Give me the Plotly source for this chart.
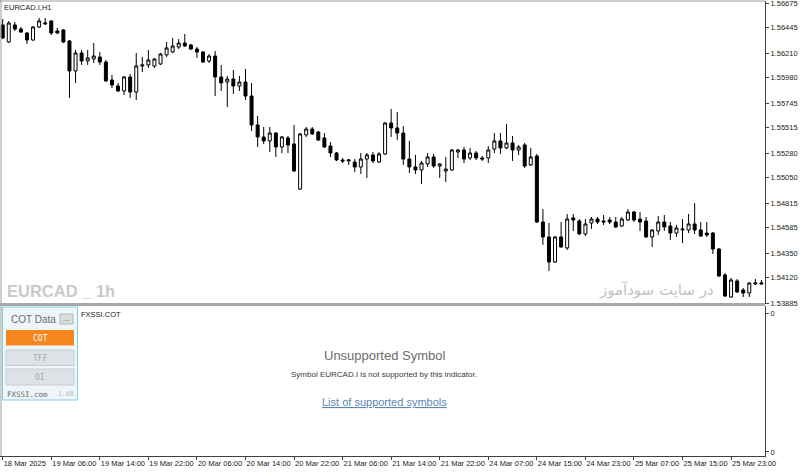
import plotly.graph_objects as go

# ---------------- data (EURCAD.I, H1) ----------------
opens = [1.56471,1.56312,1.56471,1.56433,1.56396,1.56331,1.56452,1.56480,1.56508,1.56415,
         1.56424,1.56322,1.56043,1.56210,1.56136,1.56154,1.56173,1.56126,1.55959,1.55903,
         1.55857,1.55987,1.55847,1.56089,1.56099,1.56089,1.56108,1.56192,1.56219,1.56266,
         1.56303,1.56285,1.56247,1.56219,1.56136,1.56182,1.55987,1.55940,1.55968,1.55903,
         1.55940,1.55810,1.55541,1.55429,1.55392,1.55466,1.55336,1.55420,1.55364,1.54945,
         1.55448,1.55503,1.55475,1.55420,1.55345,1.55280,1.55215,1.55206,1.55196,1.55150,
         1.55224,1.55262,1.55196,1.55271,1.55559,1.55513,1.55466,1.55224,1.55150,1.55122,
         1.55178,1.55243,1.55159,1.55113,1.55122,1.55289,1.55308,1.55234,1.55280,1.55234,
         1.55234,1.55317,1.55392,1.55327,1.55373,1.55308,1.55355,1.55169,1.55252,1.54638,
         1.54499,1.54266,1.54499,1.54397,1.54676,1.54648,1.54527,1.54629,1.54666,1.54648,
         1.54657,1.54638,1.54601,1.54657,1.54731,1.54666,1.54648,1.54499,1.54555,1.54638,
         1.54601,1.54536,1.54564,1.54564,1.54620,1.54564,1.54536,1.54536,1.54387,1.54146,
         1.53941,1.54090,1.54006,1.53978,1.54062,1.54062]
highs = [1.56526,1.56508,1.56498,1.56452,1.56405,1.56461,1.56536,1.56536,1.56517,1.56443,
         1.56433,1.56331,1.56238,1.56238,1.56238,1.56303,1.56219,1.56145,1.56006,1.55931,
         1.55996,1.56015,1.56210,1.56173,1.56238,1.56164,1.56210,1.56312,1.56350,1.56340,
         1.56387,1.56294,1.56266,1.56229,1.56201,1.56229,1.56099,1.55996,1.56052,1.55996,
         1.56061,1.55931,1.55624,1.55522,1.55522,1.55475,1.55438,1.55438,1.55541,1.55466,
         1.55522,1.55522,1.55485,1.55466,1.55382,1.55289,1.55234,1.55224,1.55224,1.55280,
         1.55280,1.55289,1.55289,1.55568,1.55689,1.55661,1.55531,1.55392,1.55262,1.55206,
         1.55280,1.55271,1.55187,1.55243,1.55317,1.55317,1.55336,1.55327,1.55299,1.55252,
         1.55345,1.55466,1.55466,1.55550,1.55438,1.55355,1.55373,1.55327,1.55271,1.54759,
         1.54629,1.54508,1.54638,1.54713,1.54713,1.54666,1.54666,1.54685,1.54685,1.54704,
         1.54685,1.54685,1.54685,1.54759,1.54741,1.54731,1.54685,1.54573,1.54694,1.54704,
         1.54638,1.54611,1.54666,1.54713,1.54815,1.54638,1.54638,1.54545,1.54397,1.54164,
         1.54118,1.54108,1.54025,1.54080,1.54108,1.54099]
lows = [1.56340,1.56303,1.56415,1.56396,1.56294,1.56322,1.56443,1.56471,1.56378,1.56387,
        1.56303,1.55792,1.55931,1.56099,1.56099,1.56117,1.56099,1.55940,1.55885,1.55847,
        1.55820,1.55792,1.55773,1.56033,1.56071,1.56071,1.56099,1.56173,1.56210,1.56247,
        1.56266,1.56238,1.56164,1.56117,1.56117,1.55810,1.55857,1.55708,1.55829,1.55857,
        1.55773,1.55485,1.55336,1.55364,1.55289,1.55243,1.55280,1.55280,1.55103,1.54936,
        1.55429,1.55448,1.55392,1.55327,1.55243,1.55206,1.55187,1.55169,1.55103,1.55085,
        1.55048,1.55187,1.55187,1.55262,1.55429,1.55401,1.55169,1.55094,1.55085,1.54992,
        1.55150,1.55141,1.55048,1.55010,1.55113,1.55234,1.55187,1.55215,1.55215,1.55206,
        1.55187,1.55280,1.55271,1.55317,1.55206,1.55262,1.55141,1.55159,1.54629,1.54425,
        1.54183,1.54257,1.54397,1.54378,1.54555,1.54518,1.54508,1.54573,1.54620,1.54611,
        1.54620,1.54583,1.54592,1.54648,1.54638,1.54555,1.54490,1.54406,1.54518,1.54555,
        1.54471,1.54499,1.54443,1.54536,1.54527,1.54499,1.54499,1.54341,1.54127,1.53941,
        1.53932,1.53978,1.53941,1.53941,1.54053,1.54053]
closes = [1.56350,1.56489,1.56433,1.56405,1.56331,1.56452,1.56508,1.56489,1.56396,1.56396,
          1.56312,1.56043,1.56210,1.56136,1.56164,1.56182,1.56126,1.55950,1.55913,1.55857,
          1.55987,1.55847,1.56089,1.56099,1.56145,1.56154,1.56201,1.56257,1.56275,1.56303,
          1.56275,1.56247,1.56219,1.56126,1.56182,1.55987,1.55931,1.55968,1.55903,1.55940,
          1.55810,1.55541,1.55429,1.55392,1.55466,1.55336,1.55429,1.55355,1.55113,1.55457,
          1.55503,1.55457,1.55401,1.55336,1.55280,1.55215,1.55206,1.55215,1.55150,1.55224,
          1.55262,1.55206,1.55271,1.55559,1.55513,1.55466,1.55224,1.55150,1.55122,1.55187,
          1.55243,1.55159,1.55178,1.55131,1.55308,1.55308,1.55224,1.55280,1.55234,1.55224,
          1.55308,1.55392,1.55327,1.55373,1.55308,1.55336,1.55159,1.55243,1.54638,1.54499,
          1.54266,1.54499,1.54406,1.54666,1.54657,1.54527,1.54620,1.54666,1.54638,1.54638,
          1.54638,1.54592,1.54666,1.54731,1.54657,1.54638,1.54499,1.54564,1.54638,1.54592,
          1.54536,1.54583,1.54573,1.54620,1.54564,1.54508,1.54518,1.54387,1.54136,1.53950,
          1.54099,1.53987,1.53978,1.54071,1.54071,1.54071]
bar_index = list(range(len(opens)))

time_tick_bars = [0, 8, 16, 24, 32, 40, 48, 56, 64, 72, 80, 88, 96, 104, 112, 120]
time_tick_labels = ["18 Mar 2025", "19 Mar 06:00", "19 Mar 14:00", "19 Mar 22:00",
                    "20 Mar 06:00", "20 Mar 14:00", "20 Mar 22:00", "21 Mar 06:00",
                    "21 Mar 14:00", "21 Mar 22:00", "24 Mar 07:00", "24 Mar 15:00",
                    "24 Mar 23:00", "25 Mar 07:00", "25 Mar 15:00", "25 Mar 23:00"]
price_ticks = [1.56675, 1.56445, 1.56210, 1.55980, 1.55745, 1.55515, 1.55280,
               1.55050, 1.54815, 1.54585, 1.54350, 1.54120, 1.53885]
price_tick_labels = ["%.5f" % v for v in price_ticks]

# ---------------- layout helpers (pixel -> paper) ----------------
W, H = 800, 473
def px(x):
    return x / W
def py(y):
    return (H - y) / H

AXIS_X = 765
FONT = "Liberation Sans"

fig = go.Figure()
fig.add_trace(go.Candlestick(
    x=bar_index, open=opens, high=highs, low=lows, close=closes,
    increasing=dict(line=dict(color="#000000", width=1), fillcolor="#ffffff"),
    decreasing=dict(line=dict(color="#000000", width=1), fillcolor="#000000"),
    whiskerwidth=0, hoverinfo="skip", showlegend=False,
    xaxis="x", yaxis="y"))
fig.add_trace(go.Scatter(x=[], y=[], xaxis="x2", yaxis="y2", showlegend=False))

xr = [-0.445, 125.59]
common = dict(showgrid=False, zeroline=False, automargin=False, fixedrange=True,
              ticklabeloverflow="allow")
fig.update_layout(
    width=W, height=H, autosize=False,
    margin=dict(l=0, r=0, t=0, b=0, pad=0),
    paper_bgcolor="white", plot_bgcolor="white",
    showlegend=False,
    xaxis=dict(domain=[0, px(AXIS_X)], range=xr, anchor="y", showticklabels=False,
               ticks="", showline=False, rangeslider=dict(visible=False), **common),
    yaxis=dict(domain=[py(304), py(1)], range=[1.538757, 1.566936], side="right",
               anchor="x", tickvals=price_ticks, ticktext=price_tick_labels,
               ticks="outside", ticklen=3, tickcolor="#404040",
               showline=True, linecolor="#404040", linewidth=1,
               tickfont=dict(family=FONT, size=7.5, color="#202020"), **common),
    xaxis2=dict(domain=[0, px(AXIS_X)], range=xr, anchor="y2",
                tickvals=time_tick_bars, ticktext=time_tick_labels, tickangle=0,
                ticks="outside", ticklen=3, tickcolor="#404040",
                ticklabelposition="outside right",
                showline=True, linecolor="#404040", linewidth=1,
                tickfont=dict(family=FONT, size=7.5, color="#202020"), **common),
    yaxis2=dict(domain=[py(456), py(306)], range=[0, 1], side="right", anchor="x2",
                tickvals=[0.027, 0.953], ticktext=["0", "0"],
                ticks="outside", ticklen=3, tickcolor="#404040",
                showline=True, linecolor="#404040", linewidth=1,
                tickfont=dict(family=FONT, size=7.5, color="#202020"), **common),
)

shapes = []
def rect(x0, y0, x1, y1, fill, line=None, lw=1, layer="above"):
    shapes.append(dict(type="rect", xref="paper", yref="paper",
                       x0=px(x0), x1=px(x1), y0=py(y0), y1=py(y1),
                       fillcolor=fill, layer=layer,
                       line=dict(color=line or fill, width=lw if line else 0)))
def hline(x0, x1, y, color, lw=1):
    shapes.append(dict(type="line", xref="paper", yref="paper",
                       x0=px(x0), x1=px(x1), y0=py(y), y1=py(y),
                       line=dict(color=color, width=lw)))
def vline(x, y0, y1, color, lw=1):
    shapes.append(dict(type="line", xref="paper", yref="paper",
                       x0=px(x), x1=px(x), y0=py(y0), y1=py(y1),
                       line=dict(color=color, width=lw)))

# pane borders
hline(0, AXIS_X, 1, "#9a9a9a")
vline(1, 0, 304, "#9a9a9a")
vline(1, 306, 456, "#9a9a9a")
rect(0, 303, AXIS_X, 306, "#a8a8a8")

# COT panel
rect(2.5, 307, 77.5, 400, "#eef6fa", "#7fcfe3")
rect(60, 314, 73, 324, "#dcdcdc", "#b5b5b5")
rect(6, 330, 74, 345.5, "#f5851f")
rect(6, 350, 74, 365.5, "#dde2e6", "#c5ccd2")
rect(6, 369, 74, 385, "#dde2e6", "#c5ccd2")
fig.update_layout(shapes=shapes)

def text(x, y, s, size, color, xanchor="center", family=FONT, bold=False):
    if bold:
        s = "<b>" + s + "</b>"
    fig.add_annotation(x=px(x), y=py(y), xref="paper", yref="paper", text=s,
                       showarrow=False, xanchor=xanchor, yanchor="middle",
                       font=dict(family=family, size=size, color=color),
                       borderpad=0, borderwidth=0)

MONO = "DejaVu Sans Mono"
text(4, 8, "EURCAD.I,H1", 7.5, "#202020", xanchor="left")
text(7, 291, "EURCAD _ 1h", 16.5, "#c9c9c9", xanchor="left", bold=True)
text(714, 290, "در سایت سودآموز", 15, "#c3c3c3", xanchor="right", family="DejaVu Sans")

text(33, 319, "COT Data", 10, "#6a6a6a")
text(66.5, 318, "...", 8, "#666666")
text(40, 338, "COT", 8, "#ffffff", family=MONO)
text(40, 358, "TFF", 8, "#a8a8a8", family=MONO)
text(40, 377, "OI", 8, "#a8a8a8", family=MONO)
text(7, 394, "FXSSI.com", 7.5, "#6a6a6a", xanchor="left", family=MONO)
text(74, 394, "1.08", 6.5, "#b8b8b8", xanchor="right", family=MONO)
text(81, 314, "FXSSI.COT", 7.5, "#202020", xanchor="left")

text(384.5, 355.5, "Unsupported Symbol", 13, "#6b6b6b")
text(384, 374.5, "Symbol EURCAD.I is not supported by this indicator.", 8, "#3a3a3a")
text(384, 401.5, '<span style="text-decoration:underline">List of supported symbols</span>',
     11, "#5b86b8")

fig.write_html("out.html")
